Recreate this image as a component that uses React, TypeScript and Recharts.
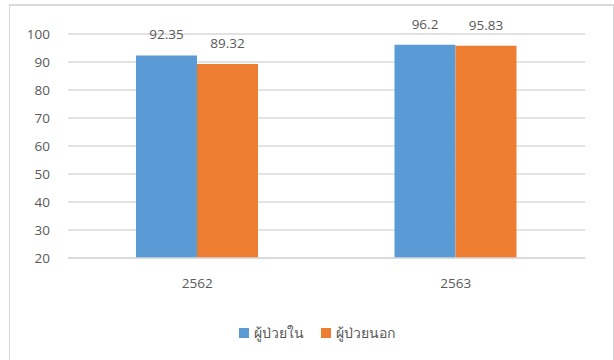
import { BarChart, Bar, XAxis, YAxis, CartesianGrid, Legend, LabelList } from 'recharts';

const years = ['2562', '2563'];
const inpatient = [92.35, 96.2];
const outpatient = [89.32, 95.83];
const yTicks = [20, 30, 40, 50, 60, 70, 80, 90, 100];

const SERIES = [
  { key: 'inpatient', name: 'ผู้ป่วยใน', color: '#5B9BD5' },
  { key: 'outpatient', name: 'ผู้ป่วยนอก', color: '#ED7D31' },
];

const FONT = '"Open Sans", "Noto Sans", sans-serif';
const TEXT = '#595959';
const GRID = '#D9D9D9';

const data = years.map((year, i) => ({
  year,
  inpatient: inpatient[i],
  outpatient: outpatient[i],
}));

function LegendContent() {
  return (
    <div style={{ display: 'flex', justifyContent: 'center', alignItems: 'center', fontFamily: FONT, fontSize: 14, color: TEXT }}>
      {SERIES.map((s, i) => (
        <div key={s.key} style={{ display: 'flex', alignItems: 'center', marginLeft: i ? 17 : 0 }}>
          <span style={{ width: 10, height: 10, background: s.color, display: 'inline-block', marginRight: 5 }} />
          <span>{s.name}</span>
        </div>
      ))}
    </div>
  );
}

export default function App() {
  return (
    <div style={{ position: 'fixed', top: 0, left: 0, width: 614, height: 360, background: '#fff', overflow: 'hidden' }}>
      <div
        style={{
          position: 'absolute',
          left: 9,
          top: 4,
          width: 603,
          height: 370,
          borderTop: `2px solid ${GRID}`,
          borderLeft: `1px solid ${GRID}`,
          borderRight: `1px solid ${GRID}`,
        }}
      />
      <div style={{ position: 'absolute', top: 0, left: 0 }}>
        <BarChart
          width={614}
          height={360}
          data={data}
          margin={{ top: 34, right: 29, bottom: 62, left: 0 }}
          barSize={61}
          barGap={0}
        >
          <CartesianGrid vertical={false} stroke={GRID} strokeWidth={1.5} />
          <XAxis
            dataKey="year"
            axisLine={{ stroke: GRID, strokeWidth: 1.5 }}
            tickLine={false}
            tickMargin={14}
            height={40}
            tick={{ fill: TEXT, fontSize: 13.5, fontFamily: FONT }}
          />
          <YAxis
            domain={[20, 100]}
            ticks={yTicks}
            interval={0}
            axisLine={false}
            tickLine={false}
            tickMargin={12}
            width={68}
            tick={{ fill: TEXT, fontSize: 13.5, fontFamily: FONT }}
          />
          <Legend
            verticalAlign="middle"
            align="center"
            content={<LegendContent />}
            wrapperStyle={{ top: 322, left: 20, width: 594 }}
          />
          {SERIES.map((s) => (
            <Bar key={s.key} dataKey={s.key} name={s.name} fill={s.color} isAnimationActive={false}>
              <LabelList dataKey={s.key} position="top" offset={16} fill={TEXT} fontSize={13.5} fontFamily={FONT} />
            </Bar>
          ))}
        </BarChart>
      </div>
    </div>
  );
}
